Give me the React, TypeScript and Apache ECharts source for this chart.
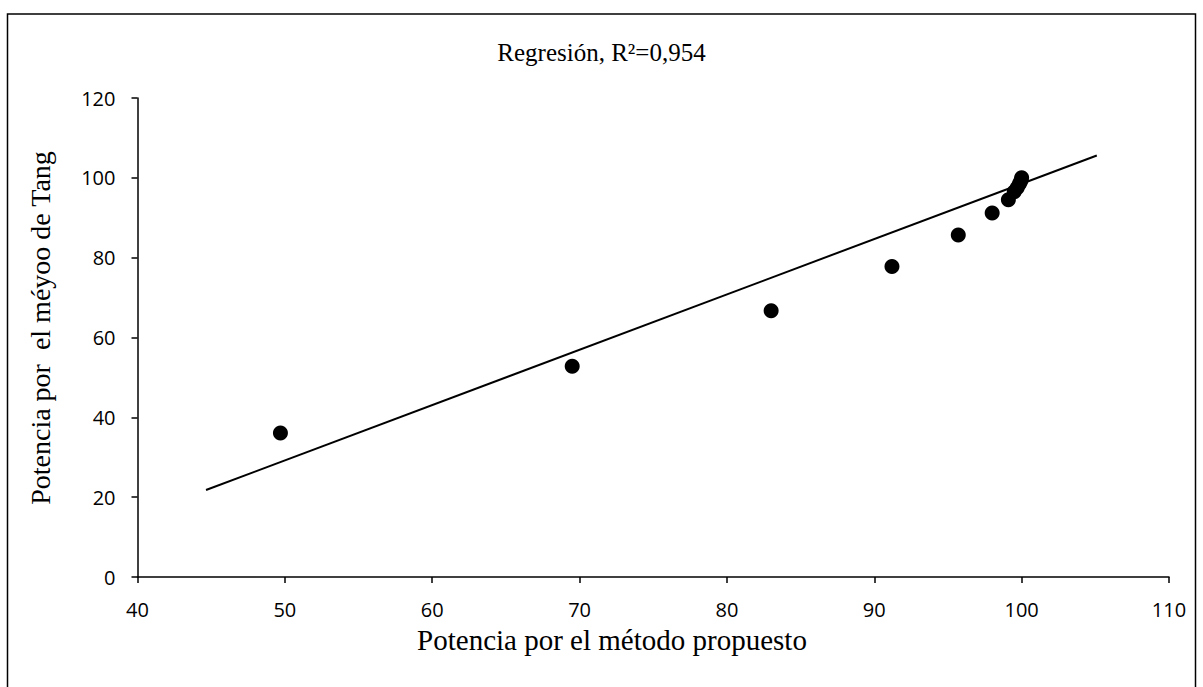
import React, { useEffect, useRef } from "react";
import * as echarts from "echarts";

const titleText = "Regresión, R²=0,954";
const xAxisName = "Potencia por el método propuesto";
const yAxisName = "Potencia por  el méyoo de Tang";

const xValues = [49.7, 69.5, 83.0, 91.2, 95.7, 98.0, 99.1, 99.5, 99.7, 99.85, 99.95, 100.0];
const yValues = [36.1, 52.8, 66.7, 77.8, 85.7, 91.2, 94.5, 96.5, 97.5, 98.5, 99.3, 100.0];

const fitX = [44.65, 105.1];
const fitY = [21.8, 105.6];

const xMin = 40, xMax = 110, xStep = 10;
const yMin = 0, yMax = 120, yStep = 20;

export default function App() {
  const ref = useRef<HTMLDivElement>(null);
  useEffect(() => {
    document.body.style.margin = "0";
    const chart = echarts.init(ref.current!, undefined, { renderer: "svg" });
    const serif = "'Liberation Serif', 'DejaVu Serif', serif";
    const sans = "'Open Sans', 'Noto Sans', sans-serif";
    chart.setOption({
      animation: false,
      backgroundColor: "#ffffff",
      title: {
        text: titleText,
        left: "center",
        top: 35,
        textStyle: { fontFamily: serif, fontSize: 25, fontWeight: "normal", color: "#000" },
      },
      graphic: [
        {
          type: "rect",
          shape: { x: 7.5, y: 14, width: 1188, height: 700 },
          style: { fill: "none", stroke: "#000", lineWidth: 1.5 },
          silent: true,
        },
        {
          type: "text",
          x: 612,
          y: 640,
          silent: true,
          style: {
            text: xAxisName,
            fontFamily: serif,
            fontSize: 29,
            fill: "#000",
            align: "center",
            verticalAlign: "middle",
          },
        },
        {
          type: "text",
          x: 40,
          y: 328,
          rotation: Math.PI / 2,
          silent: true,
          style: {
            text: yAxisName,
            fontFamily: serif,
            fontSize: 28,
            fill: "#000",
            align: "center",
            verticalAlign: "middle",
          },
        },
      ],
      grid: { left: 137.5, right: 34, top: 98, bottom: 110, containLabel: false },
      xAxis: {
        type: "value",
        min: xMin,
        max: xMax,
        interval: xStep,
        axisLine: { show: true, lineStyle: { color: "#000", width: 1.5 } },
        axisTick: { show: true, inside: false, length: 6, lineStyle: { color: "#000", width: 1.5 } },
        axisLabel: { fontFamily: sans, fontSize: 20, color: "#000", margin: 22 },
        splitLine: { show: false },
      },
      yAxis: {
        type: "value",
        min: yMin,
        max: yMax,
        interval: yStep,
        axisLine: { show: true, lineStyle: { color: "#000", width: 1.5 } },
        axisTick: { show: true, inside: false, length: 6, lineStyle: { color: "#000", width: 1.5 } },
        axisLabel: { fontFamily: sans, fontSize: 20, color: "#000", margin: 22 },
        splitLine: { show: false },
      },
      series: [
        {
          type: "line",
          data: fitX.map((x, i) => [x, fitY[i]]),
          showSymbol: false,
          symbol: "none",
          lineStyle: { color: "#000", width: 2 },
          z: 2,
        },
        {
          type: "scatter",
          data: xValues.map((x, i) => [x, yValues[i]]),
          symbol: "circle",
          symbolSize: 15,
          itemStyle: { color: "#000", opacity: 1 },
          z: 3,
        },
      ],
    });
    return () => chart.dispose();
  }, []);
  return <div ref={ref} style={{ width: 1203, height: 687 }} />;
}
